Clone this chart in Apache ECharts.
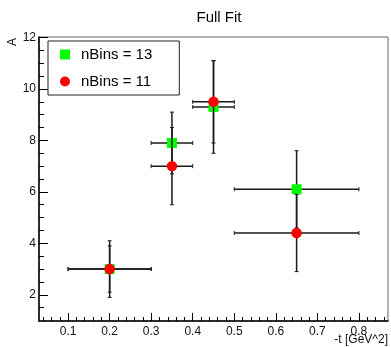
<!DOCTYPE html>
<html>
<head>
<meta charset="utf-8">
<script src="https://cdn.jsdelivr.net/npm/echarts@6/dist/echarts.min.js"></script>
<style>
html,body{margin:0;padding:0;background:#fff;}
#chart{width:391px;height:347px;}
</style>
</head>
<body>
<div id="chart"></div>
<script>
// ---- data ----
const titleText = 'Full Fit';
const xTitle = '-t [GeV^2]';
const yTitle = 'A';
const seriesNames = ['nBins = 13', 'nBins = 11'];

const t13 = [0.2, 0.35, 0.45, 0.65];
const a13 = [3.0, 7.9, 9.3, 6.1];
const tErr13 = [0.1, 0.05, 0.05, 0.15];
const aErr13 = [1.1, 1.2, 1.8, 1.5];

const t11 = [0.2, 0.35, 0.45, 0.65];
const a11 = [3.0, 7.0, 9.5, 4.4];
const tErr11 = [0.1, 0.05, 0.05, 0.15];
const aErr11 = [0.9, 1.5, 1.6, 1.5];

const xMajorTicks = [0.1, 0.2, 0.3, 0.4, 0.5, 0.6, 0.7, 0.8];
const xMinorTicks = [0.04,0.06,0.08,0.12,0.14,0.16,0.18,0.22,0.24,0.26,0.28,0.32,0.34,0.36,0.38,
  0.42,0.44,0.46,0.48,0.52,0.54,0.56,0.58,0.62,0.64,0.66,0.68,0.72,0.74,0.76,0.78,0.82,0.84,0.86];
const yMajorTicks = [2, 4, 6, 8, 10, 12];
const yMinorTicks = [1.5, 2.5, 3, 3.5, 4.5, 5, 5.5, 6.5, 7, 7.5, 8.5, 9, 9.5, 10.5, 11, 11.5];

const xMin = 0.03, xMax = 0.87, yMin = 0.98, yMax = 12.02;

// ---- build ----
function pts(t, a) { return t.map((v, i) => [v, a[i]]); }
function errs(t, a, et, ea) { return t.map((v, i) => [v, a[i], et[i], ea[i]]); }

function errRender(params, api) {
  const x = api.value(0), y = api.value(1), ex = api.value(2), ey = api.value(3);
  const l = api.coord([x - ex, y]), r = api.coord([x + ex, y]);
  const t = api.coord([x, y + ey]), b = api.coord([x, y - ey]);
  const cap = 2;
  const style = { stroke: '#1a1a1a', lineWidth: 1.5 };
  const capStyle = { stroke: '#1a1a1a', lineWidth: 1 };
  const line = (x1, y1, x2, y2, s) => ({ type: 'line', shape: { x1, y1, x2, y2 }, style: s });
  return {
    type: 'group',
    children: [
      line(l[0], l[1], r[0], r[1], style),
      line(t[0], t[1], b[0], b[1], style),
      line(l[0], l[1] - cap, l[0], l[1] + cap, capStyle),
      line(r[0], r[1] - cap, r[0], r[1] + cap, capStyle),
      line(t[0] - cap, t[1], t[0] + cap, t[1], capStyle),
      line(b[0] - cap, b[1], b[0] + cap, b[1], capStyle)
    ]
  };
}

const font = 'Liberation Sans, Arial, Helvetica, sans-serif';
const chart = echarts.init(document.getElementById('chart'), null, { renderer: 'canvas' });

const baseAxis = { type: 'value', splitLine: { show: false }, axisPointer: { show: false } };

chart.setOption({
  animation: false,
  backgroundColor: '#fff',
  textStyle: { fontFamily: font },
  title: {
    text: titleText, left: 214, top: 5, textAlign: 'center',
    textStyle: { fontFamily: font, fontSize: 15, fontWeight: 'normal', color: '#000' }
  },
  grid: { left: 39, right: 3, top: 37, bottom: 26, show: true, borderColor: '#666', borderWidth: 1, containLabel: false },
  legend: {
    data: seriesNames, orient: 'vertical', left: 48, top: 41,
    padding: [6, 27, 6, 12], itemGap: 12, itemWidth: 10, itemHeight: 10,
    borderColor: '#222', borderWidth: 1, backgroundColor: '#fff',
    textStyle: { fontFamily: font, fontSize: 15, color: '#000', padding: [0, 0, 0, 6] },
    z: 10
  },
  xAxis: [
    Object.assign({}, baseAxis, {
      min: xMin, max: xMax, position: 'bottom',
      axisLine: { show: true, onZero: false, lineStyle: { color: '#000', width: 1.5 } },
      axisTick: { show: true, inside: true, length: 8, customValues: xMajorTicks, lineStyle: { color: '#000', width: 1 } },
      axisLabel: { show: true, customValues: xMajorTicks, margin: 5, fontSize: 12, color: '#111', fontFamily: font,
        formatter: v => v.toFixed(1) }
    }),
    Object.assign({}, baseAxis, {
      min: xMin, max: xMax, position: 'bottom', gridIndex: 0,
      axisLine: { show: false, onZero: false },
      axisTick: { show: true, inside: true, length: 4, customValues: xMinorTicks, lineStyle: { color: '#000', width: 1 } },
      axisLabel: { show: false }
    })
  ],
  yAxis: [
    Object.assign({}, baseAxis, {
      min: yMin, max: yMax, position: 'left',
      axisLine: { show: true, onZero: false, lineStyle: { color: '#000', width: 1.5 } },
      axisTick: { show: true, inside: true, length: 9, customValues: yMajorTicks, lineStyle: { color: '#000', width: 1 } },
      axisLabel: { show: true, customValues: yMajorTicks, margin: 3, fontSize: 12, color: '#111', fontFamily: font }
    }),
    Object.assign({}, baseAxis, {
      min: yMin, max: yMax, position: 'left', gridIndex: 0,
      axisLine: { show: false, onZero: false },
      axisTick: { show: true, inside: true, length: 5, customValues: yMinorTicks, lineStyle: { color: '#000', width: 1 } },
      axisLabel: { show: false }
    })
  ],
  graphic: [
    { type: 'text', right: 3, top: 334, style: { text: xTitle, fontFamily: font, fontSize: 12, fill: '#111' } },
    { type: 'text', x: 7, y: 46, rotation: Math.PI / 2, style: { text: yTitle, fontFamily: font, fontSize: 12, fill: '#111' } }
  ],
  series: [
    { type: 'custom', name: 'err13', xAxisIndex: 0, yAxisIndex: 0, renderItem: errRender, data: errs(t13, a13, tErr13, aErr13), z: 2, silent: true },
    { type: 'scatter', name: seriesNames[0], xAxisIndex: 0, yAxisIndex: 0, data: pts(t13, a13), symbol: 'rect', symbolSize: 10,
      itemStyle: { color: '#00ff00', opacity: 1 }, z: 3 },
    { type: 'custom', name: 'err11', xAxisIndex: 0, yAxisIndex: 0, renderItem: errRender, data: errs(t11, a11, tErr11, aErr11), z: 4, silent: true },
    { type: 'scatter', name: seriesNames[1], xAxisIndex: 0, yAxisIndex: 0, data: pts(t11, a11), symbol: 'circle', symbolSize: 10.5,
      itemStyle: { color: '#ff0000', opacity: 1 }, z: 5 }
  ]
});
</script>
</body>
</html>
